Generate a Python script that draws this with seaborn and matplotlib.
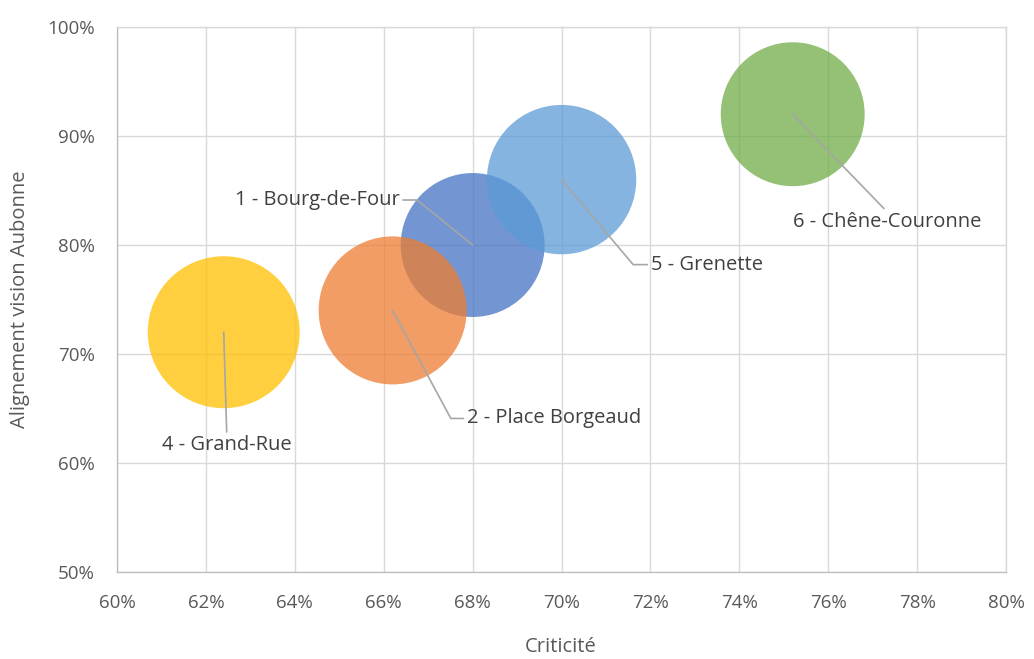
import numpy as np
import pandas as pd
import matplotlib
matplotlib.use('Agg')
import matplotlib.pyplot as plt
import seaborn as sns
from matplotlib.ticker import PercentFormatter, MultipleLocator

# data (series order as in the source chart)
sites = ['1 - Bourg-de-Four', '2 - Place Borgeaud', '4 - Grand-Rue', '5 - Grenette', '6 - Chêne-Couronne']
criticite = [0.680, 0.662, 0.624, 0.700, 0.752]
alignement = [0.80, 0.74, 0.72, 0.86, 0.92]
taille = [0.52, 0.55, 0.58, 0.56, 0.52]
couleurs = ['#4472C4', '#ED7D31', '#FFC000', '#5B9BD5', '#70AD47']

# label placement: text offset (points), alignment, relpos of leader start, connection style
label_offsets = [(-52.6, 32.4), (53.3, -77.8), (2.2, -81.4), (64.1, -61.2), (68.0, -77.5)]
label_ha = ['right', 'left', 'center', 'left', 'center']
label_relpos = [(1, 0.5), (0, 0.5), (0.5, 1), (0, 0.5), (0.5, 1)]
label_conn = ['angle,angleA=0,angleB=-39,rad=0',
              'angle,angleA=0,angleB=-61.7,rad=0',
              'arc3,rad=0',
              'angle,angleA=0,angleB=-49.9,rad=0',
              'arc3,rad=0']

df = pd.DataFrame({'site': sites, 'criticite': criticite,
                   'alignement': alignement, 'taille': taille})

sns.set_style('white')
plt.rcParams['font.family'] = ['Open Sans', 'DejaVu Sans']

fig = plt.figure(figsize=(10.34, 6.59), dpi=100)
ax = fig.add_axes([0.1132, 0.132, 0.8598, 0.827])

scale = 11977 / 0.58
sns.scatterplot(data=df, x='criticite', y='alignement', hue='site',
                palette=couleurs, s=df['taille'].values * scale,
                alpha=0.75, edgecolor='none', linewidth=0, legend=False, ax=ax, zorder=3)

ax.set_xlim(0.60, 0.80)
ax.set_ylim(0.50, 1.00)
ax.xaxis.set_major_locator(MultipleLocator(0.02))
ax.yaxis.set_major_locator(MultipleLocator(0.10))
ax.xaxis.set_major_formatter(PercentFormatter(1.0, decimals=0))
ax.yaxis.set_major_formatter(PercentFormatter(1.0, decimals=0))
ax.grid(True, color='#D9D9D9', linewidth=1)
ax.set_axisbelow(True)
for sp in ax.spines.values():
    sp.set_color('#D9D9D9')
    sp.set_linewidth(1)
ax.spines['left'].set_color('#BFBFBF')
ax.spines['bottom'].set_color('#BFBFBF')
ax.tick_params(axis='both', length=0, labelsize=13.5, labelcolor='#595959')
ax.tick_params(axis='y', pad=16)
ax.tick_params(axis='x', pad=16)

ax.set_xlabel('Criticité', fontsize=14.5, color='#595959', va='center')
ax.set_ylabel('Alignement vision Aubonne', fontsize=14.5, color='#595959', va='center')
ax.xaxis.set_label_coords(0.4994, -0.138)
ax.yaxis.set_label_coords(-0.109, 0.5)

for i in range(len(sites)):
    ax.annotate(sites[i], xy=(criticite[i], alignement[i]), xytext=label_offsets[i],
                textcoords='offset points', ha=label_ha[i], va='center',
                fontsize=14.5, color='#404040', zorder=5,
                arrowprops=dict(arrowstyle='-', color='#A6A6A6', lw=1.2,
                                shrinkA=0, shrinkB=0, relpos=label_relpos[i],
                                connectionstyle=label_conn[i]))

fig.savefig('out.png', dpi=100)
